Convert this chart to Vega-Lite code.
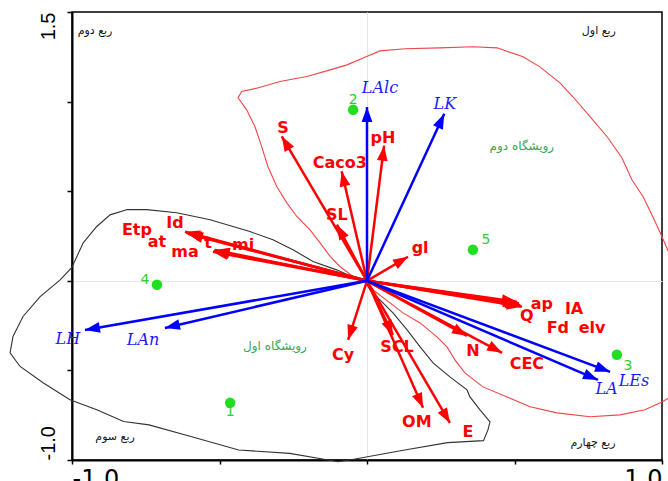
{
  "$schema": "https://vega.github.io/schema/vega-lite/v6.json",
  "width": 590,
  "height": 448,
  "autosize": {"type": "none"},
  "padding": {"left": 72, "top": 12, "right": 6, "bottom": 21},
  "background": "white",
  "config": {"view": {"stroke": "black", "strokeWidth": 1.5}},
  "datasets": {
    "black_hull": [
      {"i":1,"x":-0.815,"y":0.397},{"i":2,"x":-0.747,"y":0.397},{"i":3,"x":-0.645,"y":0.380},{"i":4,"x":-0.532,"y":0.341},
      {"i":5,"x":-0.397,"y":0.275},{"i":6,"x":-0.319,"y":0.229},{"i":7,"x":-0.251,"y":0.173},{"i":8,"x":-0.183,"y":0.108},
      {"i":9,"x":-0.103,"y":0.061},{"i":10,"x":-0.052,"y":0.024},{"i":11,"x":-0.007,"y":0.0},{"i":12,"x":0.010,"y":-0.051},
      {"i":13,"x":0.044,"y":-0.107},{"i":14,"x":0.088,"y":-0.179},{"i":15,"x":0.136,"y":-0.274},{"i":16,"x":0.180,"y":-0.369},
      {"i":17,"x":0.224,"y":-0.458},{"i":18,"x":0.281,"y":-0.536},{"i":19,"x":0.339,"y":-0.609},{"i":20,"x":0.349,"y":-0.648},
      {"i":21,"x":0.383,"y":-0.720},{"i":22,"x":0.417,"y":-0.787},{"i":23,"x":0.410,"y":-0.832},{"i":24,"x":0.395,"y":-0.892},
      {"i":25,"x":0.273,"y":-0.903},{"i":26,"x":0.128,"y":-0.944},{"i":27,"x":-0.045,"y":-0.996},{"i":28,"x":-0.098,"y":-1.010},
      {"i":29,"x":-0.146,"y":-0.996},{"i":30,"x":-0.262,"y":-0.963},{"i":31,"x":-0.435,"y":-0.944},{"i":32,"x":-0.594,"y":-0.870},
      {"i":33,"x":-0.739,"y":-0.804},{"i":34,"x":-0.825,"y":-0.785},{"i":35,"x":-0.916,"y":-0.720},{"i":36,"x":-1.007,"y":-0.664},
      {"i":37,"x":-1.098,"y":-0.569},{"i":38,"x":-1.176,"y":-0.478},{"i":39,"x":-1.210,"y":-0.402},{"i":40,"x":-1.200,"y":-0.311},
      {"i":41,"x":-1.166,"y":-0.199},{"i":42,"x":-1.108,"y":-0.088},{"i":43,"x":-1.041,"y":0.004},{"i":44,"x":-1.001,"y":0.073},
      {"i":45,"x":-0.962,"y":0.212},{"i":46,"x":-0.916,"y":0.303},{"i":47,"x":-0.871,"y":0.368},{"i":48,"x":-0.815,"y":0.397}
    ],
    "red_hull": [
      {"i":1,"x":0.0,"y":0.0},{"i":2,"x":0.020,"y":-0.050},{"i":3,"x":0.078,"y":-0.123},{"i":4,"x":0.122,"y":-0.179},
      {"i":5,"x":0.180,"y":-0.235},{"i":6,"x":0.237,"y":-0.313},{"i":7,"x":0.271,"y":-0.369},{"i":8,"x":0.298,"y":-0.441},
      {"i":9,"x":0.332,"y":-0.514},{"i":10,"x":0.393,"y":-0.592},{"i":11,"x":0.475,"y":-0.648},{"i":12,"x":0.553,"y":-0.703},
      {"i":13,"x":0.644,"y":-0.737},{"i":14,"x":0.756,"y":-0.759},{"i":15,"x":0.858,"y":-0.748},{"i":16,"x":0.942,"y":-0.720},
      {"i":17,"x":1.0,"y":-0.676},{"i":18,"x":1.078,"y":-0.598},{"i":19,"x":1.095,"y":-0.106},{"i":20,"x":1.019,"y":0.173},
      {"i":21,"x":1.0,"y":0.246},{"i":22,"x":0.969,"y":0.357},{"i":23,"x":0.936,"y":0.469},{"i":24,"x":0.898,"y":0.564},
      {"i":25,"x":0.864,"y":0.687},{"i":26,"x":0.814,"y":0.804},{"i":27,"x":0.756,"y":0.916},{"i":28,"x":0.698,"y":1.027},
      {"i":29,"x":0.654,"y":1.105},{"i":30,"x":0.586,"y":1.194},{"i":31,"x":0.529,"y":1.250},{"i":32,"x":0.441,"y":1.300},
      {"i":33,"x":0.359,"y":1.306},{"i":34,"x":0.247,"y":1.300},{"i":35,"x":0.129,"y":1.295},{"i":36,"x":0.044,"y":1.283},
      {"i":37,"x":-0.003,"y":1.250},{"i":38,"x":-0.068,"y":1.205},{"i":39,"x":-0.125,"y":1.177},{"i":40,"x":-0.204,"y":1.140},
      {"i":41,"x":-0.295,"y":1.112},{"i":42,"x":-0.374,"y":1.075},{"i":43,"x":-0.425,"y":1.056},{"i":44,"x":-0.437,"y":1.021},
      {"i":45,"x":-0.408,"y":0.954},{"i":46,"x":-0.380,"y":0.861},{"i":47,"x":-0.357,"y":0.749},{"i":48,"x":-0.336,"y":0.638},
      {"i":49,"x":-0.306,"y":0.526},{"i":50,"x":-0.272,"y":0.435},{"i":51,"x":-0.238,"y":0.359},{"i":52,"x":-0.193,"y":0.284},
      {"i":53,"x":-0.159,"y":0.212},{"i":54,"x":-0.125,"y":0.136},{"i":55,"x":-0.092,"y":0.080},{"i":56,"x":-0.047,"y":0.024},
      {"i":57,"x":0.0,"y":0.0}
    ],
    "arrows": [
      {"name":"S","group":"env","x":-0.289,"y":0.806,"lx":-0.285,"ly":0.854},
      {"name":"pH","group":"env","x":0.058,"y":0.754,"lx":0.054,"ly":0.798},
      {"name":"Caco3","group":"env","x":-0.086,"y":0.611,"lx":-0.092,"ly":0.658},
      {"name":"SL","group":"env","x":-0.102,"y":0.313,"lx":-0.102,"ly":0.368},
      {"name":"gl","group":"env","x":0.139,"y":0.134,"lx":0.180,"ly":0.184},
      {"name":"Id","group":"env","x":-0.617,"y":0.274,"lx":-0.651,"ly":0.324},
      {"name":"Etp","group":"env","x":-0.612,"y":0.268,"lx":-0.780,"ly":0.285},
      {"name":"at","group":"env","x":-0.607,"y":0.263,"lx":-0.712,"ly":0.218},
      {"name":"ma","group":"env","x":-0.522,"y":0.162,"lx":-0.617,"ly":0.161},
      {"name":"t","group":"env","x":-0.519,"y":0.168,"lx":-0.539,"ly":0.212},
      {"name":"mi","group":"env","x":-0.516,"y":0.172,"lx":-0.420,"ly":0.201},
      {"name":"Cy","group":"env","x":-0.064,"y":-0.330,"lx":-0.081,"ly":-0.413},
      {"name":"ap","group":"env","x":0.508,"y":-0.117,"lx":0.593,"ly":-0.128},
      {"name":"Q","group":"env","x":0.525,"y":-0.145,"lx":0.542,"ly":-0.195},
      {"name":"IA","group":"env","x":0.515,"y":-0.125,"lx":0.702,"ly":-0.156},
      {"name":"Fd","group":"env","x":0.520,"y":-0.137,"lx":0.647,"ly":-0.262},
      {"name":"elv","group":"env","x":0.512,"y":-0.131,"lx":0.763,"ly":-0.262},
      {"name":"N","group":"env","x":0.339,"y":-0.307,"lx":0.359,"ly":-0.391},
      {"name":"CEC","group":"env","x":0.458,"y":-0.402,"lx":0.542,"ly":-0.463},
      {"name":"SCL","group":"env","x":0.088,"y":-0.302,"lx":0.102,"ly":-0.368},
      {"name":"OM","group":"env","x":0.190,"y":-0.709,"lx":0.169,"ly":-0.787},
      {"name":"E","group":"env","x":0.281,"y":-0.793,"lx":0.342,"ly":-0.843},
      {"name":"LAlc","group":"sp","x":0.0,"y":0.97,"lx":0.044,"ly":1.077},
      {"name":"LK","group":"sp","x":0.262,"y":0.932,"lx":0.264,"ly":0.985},
      {"name":"LH","group":"sp","x":-0.956,"y":-0.274,"lx":-1.014,"ly":-0.324},
      {"name":"LAn","group":"sp","x":-0.685,"y":-0.263,"lx":-0.759,"ly":-0.329},
      {"name":"LEs","group":"sp","x":0.824,"y":-0.508,"lx":0.905,"ly":-0.560},
      {"name":"LA","group":"sp","x":0.783,"y":-0.553,"lx":0.812,"ly":-0.602}
    ],
    "sites": [
      {"name":"1","x":-0.464,"y":-0.681,"lx":-0.464,"ly":-0.731},
      {"name":"2","x":-0.047,"y":0.954,"lx":-0.047,"ly":1.010},
      {"name":"3","x":0.847,"y":-0.413,"lx":0.885,"ly":-0.474},
      {"name":"4","x":-0.712,"y":-0.022,"lx":-0.753,"ly":0.006},
      {"name":"5","x":0.359,"y":0.173,"lx":0.403,"ly":0.229}
    ],
    "quadrants": [
      {"label":"ربع دوم","x":-0.922,"y":1.395},
      {"label":"ربع اول","x":0.786,"y":1.395},
      {"label":"ربع سوم","x":-0.854,"y":-0.871},
      {"label":"ربع چهارم","x":0.766,"y":-0.905}
    ],
    "habitats": [
      {"label":"رویشگاه دوم","x":0.525,"y":0.753},
      {"label":"رویشگاه اول","x":-0.312,"y":-0.363}
    ]
  },
  "layer": [
    {
      "data": {"name": "black_hull"},
      "mark": {"type": "line", "color": "#333333", "strokeWidth": 1.1},
      "encoding": {
        "x": {"field": "x", "type": "quantitative", "title": null, "scale": {"domain": [-1, 1], "nice": false, "zero": false},
          "axis": {"values": [-1, -0.5, 0, 0.5, 1], "title": null,
            "labelExpr": "datum.value == -1 ? '-1.0' : (datum.value == 1 ? '1.0' : '')",
            "labelFlush": true, "labelOverlap": false, "labelFont": "DejaVu Sans", "labelFontSize": 24, "labelColor": "black",
            "labelBaseline": "top", "labelPadding": 3, "tickSize": 4, "tickColor": "black", "tickWidth": 1.5,
            "domainColor": "black", "domainWidth": 2, "grid": true, "gridColor": "#e6e6e6", "gridWidth": 1,
            "gridOpacity": {"condition": {"test": "datum.value === 0", "value": 1}, "value": 0}}},
        "y": {"field": "y", "type": "quantitative", "title": null, "scale": {"domain": [-1, 1.5], "nice": false, "zero": false},
          "axis": {"values": [-1, -0.5, 0, 0.5, 1, 1.5], "title": null,
            "labelExpr": "datum.value == -1 ? '-1.0' : (datum.value == 1.5 ? '1.5' : '')",
            "labelFlush": false, "labelOverlap": false, "labelAngle": 270, "labelFont": "Liberation Sans", "labelFontSize": 20, "labelColor": "black",
            "labelAlign": {"condition": {"test": "datum.value < 0", "value": "left"}, "value": "right"},
            "labelBaseline": "bottom", "labelPadding": 9, "tickSize": 5, "tickColor": "black", "tickWidth": 1.5,
            "domainColor": "black", "domainWidth": 2, "grid": true, "gridColor": "#e6e6e6", "gridWidth": 1,
            "gridOpacity": {"condition": {"test": "datum.value === 0", "value": 1}, "value": 0}}},
        "order": {"field": "i", "type": "quantitative"}
      }
    },
    {
      "data": {"name": "red_hull"},
      "mark": {"type": "line", "color": "#f04646", "strokeWidth": 1.1},
      "encoding": {
        "x": {"field": "x", "type": "quantitative", "title": null, "scale": {"domain": [-1, 1], "nice": false, "zero": false}},
        "y": {"field": "y", "type": "quantitative", "title": null, "scale": {"domain": [-1, 1.5], "nice": false, "zero": false}},
        "order": {"field": "i", "type": "quantitative"}
      }
    },
    {
      "data": {"name": "arrows"},
      "mark": {"type": "rule", "strokeWidth": 2.5},
      "encoding": {
        "x": {"field": "x", "type": "quantitative", "title": null, "scale": {"domain": [-1, 1], "nice": false, "zero": false}},
        "y": {"field": "y", "type": "quantitative", "title": null, "scale": {"domain": [-1, 1.5], "nice": false, "zero": false}},
        "x2": {"datum": 0},
        "y2": {"datum": 0},
        "color": {"field": "group", "type": "nominal", "scale": {"domain": ["env", "sp"], "range": ["#ff0000", "#0000ff"]}, "legend": null}
      }
    },
    {
      "data": {"name": "arrows"},
      "transform": [{"calculate": "atan2(datum.x * 295, datum.y * 179.2) * 180 / PI", "as": "ang"}],
      "mark": {"type": "point", "shape": "M0,0 L0.36,1 L-0.36,1 Z", "filled": true, "opacity": 1, "size": 900, "strokeWidth": 0},
      "encoding": {
        "x": {"field": "x", "type": "quantitative", "title": null, "scale": {"domain": [-1, 1], "nice": false, "zero": false}},
        "y": {"field": "y", "type": "quantitative", "title": null, "scale": {"domain": [-1, 1.5], "nice": false, "zero": false}},
        "angle": {"field": "ang", "type": "quantitative", "scale": null},
        "color": {"field": "group", "type": "nominal", "scale": {"domain": ["env", "sp"], "range": ["#ff0000", "#0000ff"]}, "legend": null}
      }
    },
    {
      "data": {"name": "sites"},
      "mark": {"type": "point", "shape": "circle", "filled": true, "opacity": 1, "size": 110, "color": "#1ee01e"},
      "encoding": {
        "x": {"field": "x", "type": "quantitative", "title": null, "scale": {"domain": [-1, 1], "nice": false, "zero": false}},
        "y": {"field": "y", "type": "quantitative", "title": null, "scale": {"domain": [-1, 1.5], "nice": false, "zero": false}}
      }
    },
    {
      "data": {"name": "sites"},
      "mark": {"type": "text", "font": "DejaVu Sans", "fontSize": 14, "color": "#2fcc2f", "align": "center", "baseline": "middle"},
      "encoding": {
        "x": {"field": "lx", "type": "quantitative", "title": null, "scale": {"domain": [-1, 1], "nice": false, "zero": false}},
        "y": {"field": "ly", "type": "quantitative", "title": null, "scale": {"domain": [-1, 1.5], "nice": false, "zero": false}},
        "text": {"field": "name"}
      }
    },
    {
      "data": {"name": "arrows"},
      "transform": [{"filter": "datum.group === 'env'"}],
      "mark": {"type": "text", "font": "DejaVu Sans", "fontWeight": "bold", "fontSize": 16, "color": "#ff0000", "align": "center", "baseline": "middle"},
      "encoding": {
        "x": {"field": "lx", "type": "quantitative", "title": null, "scale": {"domain": [-1, 1], "nice": false, "zero": false}},
        "y": {"field": "ly", "type": "quantitative", "title": null, "scale": {"domain": [-1, 1.5], "nice": false, "zero": false}},
        "text": {"field": "name"}
      }
    },
    {
      "data": {"name": "arrows"},
      "transform": [{"filter": "datum.group === 'sp'"}],
      "mark": {"type": "text", "font": "DejaVu Serif", "fontStyle": "italic", "fontSize": 16, "color": "#1a1aff", "align": "center", "baseline": "middle"},
      "encoding": {
        "x": {"field": "lx", "type": "quantitative", "title": null, "scale": {"domain": [-1, 1], "nice": false, "zero": false}},
        "y": {"field": "ly", "type": "quantitative", "title": null, "scale": {"domain": [-1, 1.5], "nice": false, "zero": false}},
        "text": {"field": "name"}
      }
    },
    {
      "data": {"name": "quadrants"},
      "mark": {"type": "text", "font": "DejaVu Sans", "fontSize": 11, "color": "#111111", "align": "center", "baseline": "middle"},
      "encoding": {
        "x": {"field": "x", "type": "quantitative", "title": null, "scale": {"domain": [-1, 1], "nice": false, "zero": false}},
        "y": {"field": "y", "type": "quantitative", "title": null, "scale": {"domain": [-1, 1.5], "nice": false, "zero": false}},
        "text": {"field": "label"}
      }
    },
    {
      "data": {"name": "habitats"},
      "mark": {"type": "text", "font": "DejaVu Sans", "fontSize": 12, "color": "#3aa655", "align": "center", "baseline": "middle"},
      "encoding": {
        "x": {"field": "x", "type": "quantitative", "title": null, "scale": {"domain": [-1, 1], "nice": false, "zero": false}},
        "y": {"field": "y", "type": "quantitative", "title": null, "scale": {"domain": [-1, 1.5], "nice": false, "zero": false}},
        "text": {"field": "label"}
      }
    }
  ]
}
